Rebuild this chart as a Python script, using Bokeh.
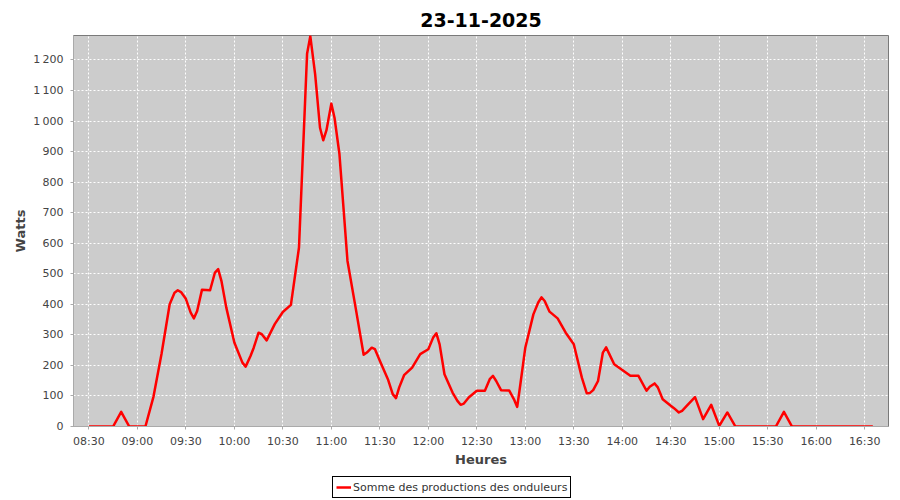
from bokeh.plotting import figure
from bokeh.layouts import column
from bokeh.models import FixedTicker, Range1d, Legend, LegendItem, ColumnDataSource
from bokeh.embed import file_html
from bokeh.resources import INLINE

chart_title = "23-11-2025"
series_name = "Somme des productions des onduleurs"
x_title = "Heures"
y_title = "Watts"

times = ["08:30", "08:35", "08:40", "08:45", "08:50", "08:55", "09:00", "09:05",
         "09:10", "09:15", "09:20", "09:23", "09:25", "09:27", "09:30", "09:33",
         "09:35", "09:37", "09:40", "09:45", "09:48", "09:50", "09:52", "09:55",
         "10:00", "10:05", "10:07", "10:10", "10:12", "10:15", "10:17", "10:20",
         "10:25", "10:30", "10:35", "10:40", "10:45", "10:47", "10:50", "10:53",
         "10:55", "10:57", "11:00", "11:02", "11:05", "11:10", "11:15", "11:20",
         "11:22", "11:25", "11:27", "11:30", "11:35", "11:38", "11:40", "11:42",
         "11:45", "11:50", "11:55", "12:00", "12:03", "12:05", "12:07", "12:10",
         "12:15", "12:18", "12:20", "12:22", "12:25", "12:30", "12:35", "12:38",
         "12:40", "12:42", "12:45", "12:50", "12:53", "12:55", "12:57", "13:00",
         "13:05", "13:08", "13:10", "13:12", "13:15", "13:20", "13:25", "13:30",
         "13:35", "13:38", "13:40", "13:42", "13:45", "13:48", "13:50", "13:52",
         "13:55", "14:00", "14:05", "14:10", "14:15", "14:17", "14:20", "14:22",
         "14:25", "14:30", "14:32", "14:35", "14:37", "14:40", "14:45", "14:50",
         "14:55", "15:00", "15:05", "15:10", "15:15", "15:20", "15:25", "15:30",
         "15:35", "15:40", "15:45", "15:50", "15:55", "16:00", "16:05", "16:10",
         "16:15", "16:20", "16:25", "16:30", "16:35"]
watts = [0, 0, 0, 0, 48, 0, 0, 0,
         98, 239, 400, 438, 446, 440, 418, 373,
         354, 378, 448, 446, 504, 515, 477, 390,
         275, 209, 196, 231, 258, 307, 302, 282,
         335, 375, 398, 586, 1220, 1278, 1153, 978,
         937, 970, 1057, 1010, 893, 542, 390, 235,
         242, 258, 253, 215, 155, 106, 93, 128,
         168, 193, 237, 253, 291, 305, 269, 171,
         111, 84, 71, 75, 95, 117, 117, 155,
         166, 149, 119, 118, 89, 64, 140, 258,
         367, 406, 423, 411, 376, 354, 307, 269,
         160, 109, 110, 119, 149, 242, 259, 237,
         204, 185, 166, 166, 117, 130, 141, 128,
         89, 68, 60, 46, 51, 68, 96, 24,
         71, 2, 46, 0, 0, 0, 0, 0,
         0, 48, 0, 0, 0, 0, 0, 0,
         0, 0, 0, 0, 0]

x_tick_labels = ["08:30", "09:00", "09:30", "10:00", "10:30", "11:00", "11:30", "12:00",
                 "12:30", "13:00", "13:30", "14:00", "14:30", "15:00", "15:30", "16:00", "16:30"]
y_ticks = [0, 100, 200, 300, 400, 500, 600, 700, 800, 900, 1000, 1100, 1200]
y_tick_labels = ["0", "100", "200", "300", "400", "500", "600", "700", "800", "900",
                 "1\u202f000", "1\u202f100", "1\u202f200"]


def to_min(s):
    h, m = s.split(":")
    return int(h) * 60 + int(m)


x_vals = [to_min(t) for t in times]
x_ticks = [to_min(t) for t in x_tick_labels]

src = ColumnDataSource(dict(x=x_vals, y=watts))

FONT = "DejaVu Sans"

p = figure(frame_width=815, frame_height=391, output_backend="svg", toolbar_location=None,
           x_range=Range1d(500.5, 1004.7), y_range=Range1d(0, 1280),
           min_border_left=73, min_border_right=12, min_border_top=35, min_border_bottom=47)

p.title.text = chart_title
p.title.align = "center"
p.title.offset = -30
p.title.text_font = FONT
p.title.text_font_size = "19px"
p.title.text_font_style = "bold"
p.title.text_color = "black"
p.title.standoff = 18

p.background_fill_color = "#cccccc"
p.border_fill_color = "white"
p.outline_line_color = "#7a7a7a"
p.outline_line_width = 1

r = p.line("x", "y", source=src, line_color="red", line_width=2.5, line_join="round")

p.xaxis.ticker = FixedTicker(ticks=x_ticks)
p.xaxis.major_label_overrides = {k: v for k, v in zip(x_ticks, x_tick_labels)}
p.yaxis.ticker = FixedTicker(ticks=y_ticks)
p.yaxis.major_label_overrides = {k: v for k, v in zip(y_ticks, y_tick_labels)}

for ax in (p.xaxis[0], p.yaxis[0]):
    ax.axis_line_color = "#aaaaaa"
    ax.major_tick_line_color = "#aaaaaa"
    ax.major_tick_out = 3
    ax.major_tick_in = 0
    ax.minor_tick_line_color = None
    ax.major_label_text_font = FONT
    ax.major_label_text_font_size = "11px"
    ax.major_label_text_color = "#444444"
    ax.axis_label_text_font = FONT
    ax.axis_label_text_font_size = "13px"
    ax.axis_label_text_font_style = "bold"
    ax.axis_label_text_color = "#444444"

p.xaxis.axis_label = x_title
p.yaxis.axis_label = y_title
p.xaxis.major_label_standoff = 5
p.yaxis.major_label_standoff = 7
p.xaxis.axis_label_standoff = 1
p.yaxis.axis_label_standoff = 2

for g in (p.xgrid[0], p.ygrid[0]):
    g.grid_line_color = "white"
    g.grid_line_dash = "2 2"
    g.grid_line_width = 1

# strip below the chart that carries the legend (its ranges keep the series out of view)
lf = figure(width=900, height=27, output_backend="svg", toolbar_location=None,
            x_axis_type=None, y_axis_type=None,
            x_range=Range1d(0, 1), y_range=Range1d(-1, -0.5),
            min_border_left=0, min_border_right=0, min_border_top=0, min_border_bottom=0)
lf.outline_line_color = None
lf.xgrid.visible = False
lf.ygrid.visible = False
lf.background_fill_color = "white"
lf.border_fill_color = "white"
lr = lf.line("x", "y", source=src, line_color="red", line_width=2.5)

legend = Legend(items=[LegendItem(label=series_name, renderers=[lr])],
                location=(259, 2), orientation="horizontal",
                border_line_color="black", border_line_width=1, border_line_alpha=1,
                background_fill_color="white", background_fill_alpha=1,
                label_text_font=FONT, label_text_font_size="11px", label_text_color="#333333",
                glyph_width=15, glyph_height=14, label_height=14, label_standoff=2,
                padding=3, margin=0, spacing=0)
lf.add_layout(legend, "center")

layout = column(p, lf, spacing=0)

open("out.html", "w").write(file_html(layout, INLINE))
